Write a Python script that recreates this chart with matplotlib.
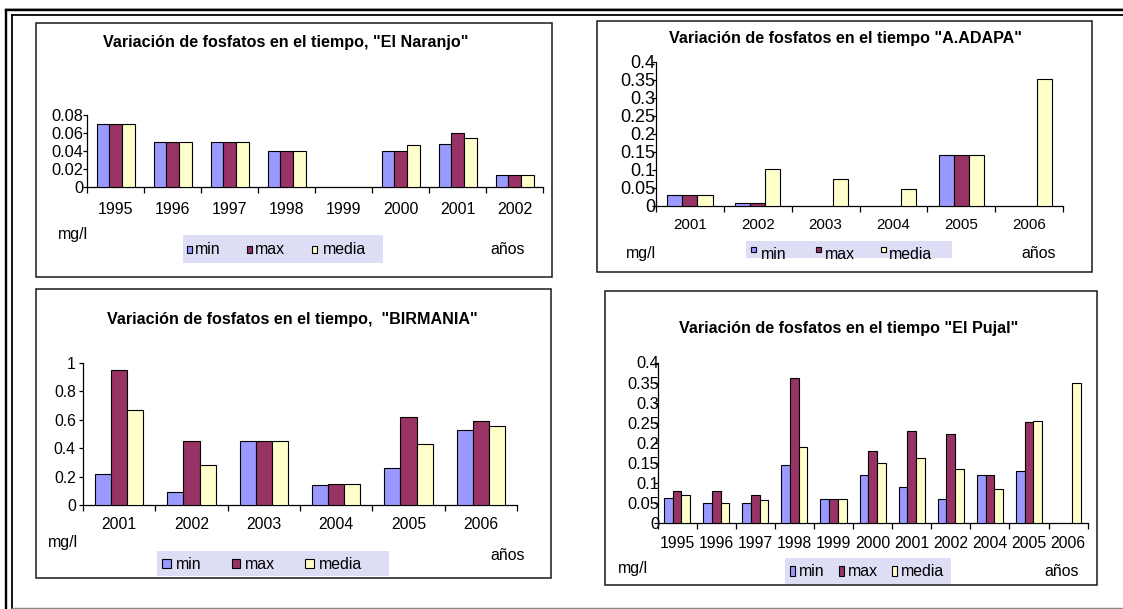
import matplotlib
matplotlib.use('Agg')
import matplotlib.pyplot as plt
from matplotlib.patches import Rectangle
from matplotlib.lines import Line2D
import numpy as np

plt.rcParams['font.family'] = ['Liberation Sans', 'DejaVu Sans']

series_names = ['min', 'max', 'media']
colors = ['#9999FF', '#993366', '#FFFFCC']
nan = np.nan

# El Naranjo
naranjo_years = ['1995', '1996', '1997', '1998', '1999', '2000', '2001', '2002']
naranjo_min = [0.07, 0.05, 0.05, 0.04, nan, 0.04, 0.048, 0.0135]
naranjo_max = [0.07, 0.05, 0.05, 0.04, nan, 0.04, 0.06, 0.0135]
naranjo_media = [0.07, 0.05, 0.05, 0.04, nan, 0.047, 0.054, 0.0135]

# A.ADAPA
adapa_years = ['2001', '2002', '2003', '2004', '2005', '2006']
adapa_min = [0.03, 0.007, nan, nan, 0.14, nan]
adapa_max = [0.03, 0.007, nan, nan, 0.14, nan]
adapa_media = [0.03, 0.102, 0.074, 0.047, 0.14, 0.351]

# BIRMANIA
birmania_years = ['2001', '2002', '2003', '2004', '2005', '2006']
birmania_min = [0.218, 0.094, 0.45, 0.138, 0.26, 0.53]
birmania_max = [0.948, 0.45, 0.45, 0.148, 0.617, 0.59]
birmania_media = [0.669, 0.279, 0.45, 0.148, 0.425, 0.556]

# El Pujal
pujal_years = ['1995', '1996', '1997', '1998', '1999', '2000', '2001', '2002', '2004', '2005', '2006']
pujal_min = [0.062, 0.05, 0.05, 0.145, 0.06, 0.119, 0.089, 0.06, 0.119, 0.129, nan]
pujal_max = [0.079, 0.079, 0.069, 0.362, 0.06, 0.178, 0.23, 0.221, 0.119, 0.251, nan]
pujal_media = [0.069, 0.05, 0.056, 0.188, 0.06, 0.149, 0.161, 0.134, 0.085, 0.254, 0.349]

W, H = 1123, 609
fig = plt.figure(figsize=(W / 100, H / 100), dpi=100)


def fx(x):
    return x / W


def fy(y):
    return 1 - y / H


panels = [
    dict(title='Variación de fosfatos en el tiempo, "El Naranjo"',
         years=naranjo_years, vals=[naranjo_min, naranjo_max, naranjo_media],
         ymax=0.08, ystep=0.02,
         box=(36, 23, 552, 277), ax=(87, 115, 543, 187), title_xy=(286, 42),
         xfs=11.5, yfs=11.8, xpad=10.8, ypad=-0.4,
         mg=(73, 234), anos=(508, 249),
         leg=(182.5, 235, 382.7, 262.6),
         sq=[(186.7, 245.7, 192.4, 253.1), (246.7, 245.7, 252.4, 253.1), (311.7, 245.7, 317.4, 253.1)],
         tx=[(194.6, 249.5), (255.3, 249.5), (323.1, 249.5)]),
    dict(title='Variación de fosfatos en el tiempo "A.ADAPA"',
         years=adapa_years, vals=[adapa_min, adapa_max, adapa_media],
         ymax=0.4, ystep=0.05,
         box=(597, 20.7, 1091.7, 271.7), ax=(656, 61.7, 1063, 206), title_xy=(845, 38),
         xfs=10.9, yfs=13.0, xpad=8.4, ypad=-2.2,
         mg=(641, 253), anos=(1039, 253),
         leg=(746, 241, 951.7, 258.3),
         sq=[(750.7, 247.3, 756, 252.3), (815.7, 247.3, 821, 252.3), (880.7, 247.3, 886, 252.3)],
         tx=[(760.7, 254.3), (825, 254.3), (889.3, 254.3)]),
    dict(title='Variación de fosfatos en el tiempo,  "BIRMANIA"',
         years=birmania_years, vals=[birmania_min, birmania_max, birmania_media],
         ymax=1.0, ystep=0.2,
         box=(36, 289, 551, 578), ax=(83, 362.6, 517, 505), title_xy=(292.8, 319.4),
         xfs=11.3, yfs=11.3, xpad=8.4, ypad=2.2,
         mg=(62.5, 542), anos=(508, 556),
         leg=(157.4, 551, 389, 576),
         sq=[(162.4, 559, 171, 568), (232, 559, 240, 568), (305, 559, 313.9, 568)],
         tx=[(176, 564.6), (245, 564.6), (318.9, 564.6)]),
    dict(title='Variación de fosfatos en el tiempo "El Pujal"',
         years=pujal_years, vals=[pujal_min, pujal_max, pujal_media],
         ymax=0.4, ystep=0.05,
         box=(605, 290.7, 1097, 585), ax=(657.6, 362.5, 1087.6, 522.8), title_xy=(848.3, 328.3),
         xfs=11.3, yfs=11.8, xpad=9.3, ypad=-4.3,
         mg=(632.7, 568.7), anos=(1062, 571),
         leg=(784.9, 557.7, 951.3, 584.3),
         sq=[(789.9, 566, 795.3, 576), (839.2, 566, 844, 576), (891.5, 566, 896.6, 576)],
         tx=[(799.4, 571.4), (848.3, 571.4), (901.3, 571.4)]),
]

bw = 1 / 4.5

for p in panels:
    bx0, by0, bx1, by1 = p['box']
    fig.add_artist(Rectangle((fx(bx0), fy(by1)), (bx1 - bx0) / W, (by1 - by0) / H,
                             transform=fig.transFigure, fill=False, ec='#1a1a1a', lw=1.1))

    ax0, ay0, ax1, ay1 = p['ax']
    ax = fig.add_axes([fx(ax0), fy(ay1), (ax1 - ax0) / W, (ay1 - ay0) / H])
    ax.patch.set_alpha(0)
    n = len(p['years'])
    x = np.arange(n)
    for i, v in enumerate(p['vals']):
        ax.bar(x + (i - 1) * bw, v, bw, color=colors[i], edgecolor='black', linewidth=0.8, zorder=3)

    ax.set_xlim(-0.5, n - 0.5)
    ax.set_ylim(0, p['ymax'])
    for s in ['top', 'right']:
        ax.spines[s].set_visible(False)
    for s in ['left', 'bottom']:
        ax.spines[s].set_color('black')
        ax.spines[s].set_linewidth(0.9)

    ax.set_xticks(np.arange(n + 1) - 0.5)
    ax.set_xticklabels([])
    ax.set_xticks(x, minor=True)
    ax.set_xticklabels(p['years'], minor=True, fontsize=p['xfs'])
    ax.tick_params(axis='x', which='major', length=4, width=0.9, direction='out')
    ax.tick_params(axis='x', which='minor', length=0, pad=p['xpad'])

    yt = np.arange(0, p['ymax'] + p['ystep'] / 2, p['ystep'])
    ax.set_yticks(yt)
    ax.set_yticklabels([f'{round(v, 4):g}' for v in yt], fontsize=p['yfs'])
    ax.tick_params(axis='y', length=3, width=0.9, direction='out', pad=p['ypad'])

    fig.text(fx(p['title_xy'][0]), fy(p['title_xy'][1]), p['title'], ha='center', va='center',
             fontsize=11.6, fontweight='bold')
    fig.text(fx(p['mg'][0]), fy(p['mg'][1]), 'mg/l', ha='center', va='center', fontsize=11.4)
    fig.text(fx(p['anos'][0]), fy(p['anos'][1]), 'años', ha='center', va='center', fontsize=11.4)

    lx0, ly0, lx1, ly1 = p['leg']
    fig.add_artist(Rectangle((fx(lx0), fy(ly1)), (lx1 - lx0) / W, (ly1 - ly0) / H,
                             transform=fig.transFigure, fc='#DDDDF6', ec='none'))
    for i, name in enumerate(series_names):
        sx0, sy0, sx1, sy1 = p['sq'][i]
        fig.add_artist(Rectangle((fx(sx0), fy(sy1)), (sx1 - sx0) / W, (sy1 - sy0) / H,
                                 transform=fig.transFigure, fc=colors[i], ec='black', lw=0.8))
        fig.text(fx(p['tx'][i][0]), fy(p['tx'][i][1]), name, ha='left', va='center', fontsize=11.4)

# page border (double line)
px = 0.72
border = [
    ([6.2, W], [10.2, 10.2], 'black', 2.4),
    ([11.8, W], [14.8, 14.8], 'black', 1.8),
    ([6.2, 6.2], [10.2, H], 'black', 2.4),
    ([11.8, 11.8], [14.8, H], 'black', 1.8),
    ([6.2, W], [7.8, 7.8], '#888888', 0.8),
    ([11.8, W], [608, 608], '#888888', 1.4),
]
for xs, ys, c, lw in border:
    fig.add_artist(Line2D([fx(v) for v in xs], [fy(v) for v in ys], transform=fig.transFigure,
                          color=c, lw=lw * px))

fig.savefig('out.png', dpi=100)
